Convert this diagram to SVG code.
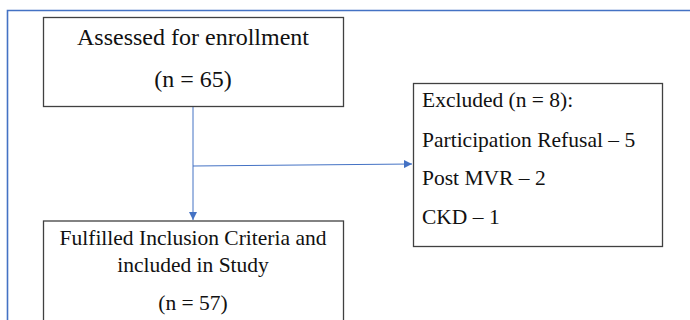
<svg xmlns="http://www.w3.org/2000/svg" width="690" height="320" viewBox="0 0 690 320">
<style>
.box{fill:#fff;stroke:#404040;stroke-width:1.3}
.t{font-family:"Liberation Serif","Times New Roman",serif;fill:#111}
.c{stroke:#4472C4;stroke-width:1;fill:none}
</style>
<defs>
<marker id="ah" viewBox="0 0 10 10" refX="10" refY="5" markerWidth="8" markerHeight="8" markerUnits="userSpaceOnUse" orient="auto">
<path d="M0,0 L10,5 L0,10 Z" fill="#4472C4"/>
</marker>
</defs>
<rect width="690" height="320" fill="#fff"/>
<path d="M7.5,330 L7.5,10.5 L700,10.5" fill="none" stroke="#4472C4" stroke-width="1.6"/>
<g id="connectors">
<path class="c" d="M193,107 L193,220" marker-end="url(#ah)"/>
<path class="c" d="M193,166 L412,164" marker-end="url(#ah)"/>
</g>
<g id="assessed">
<rect class="box" x="43.5" y="17.5" width="300" height="89"/>
<text class="t" x="193" y="45" font-size="24" text-anchor="middle">Assessed for enrollment</text>
<text class="t" x="193" y="87" font-size="24" text-anchor="middle">(n = 65)</text>
</g>
<g id="excluded">
<rect class="box" x="413.5" y="83.5" width="249" height="163"/>
<text class="t" x="422" y="107" font-size="21.5">Excluded (n = 8):</text>
<text class="t" x="422" y="147" font-size="21.5">Participation Refusal – 5</text>
<text class="t" x="422" y="185" font-size="21.5">Post MVR – 2</text>
<text class="t" x="422" y="224" font-size="21.5">CKD – 1</text>
</g>
<g id="included">
<rect class="box" x="43.5" y="221" width="300" height="120"/>
<text class="t" x="193" y="245" font-size="21.5" text-anchor="middle">Fulfilled Inclusion Criteria and</text>
<text class="t" x="193" y="272" font-size="21.5" text-anchor="middle">included in Study</text>
<text class="t" x="193" y="310" font-size="21.5" text-anchor="middle">(n = 57)</text>
</g>
</svg>
